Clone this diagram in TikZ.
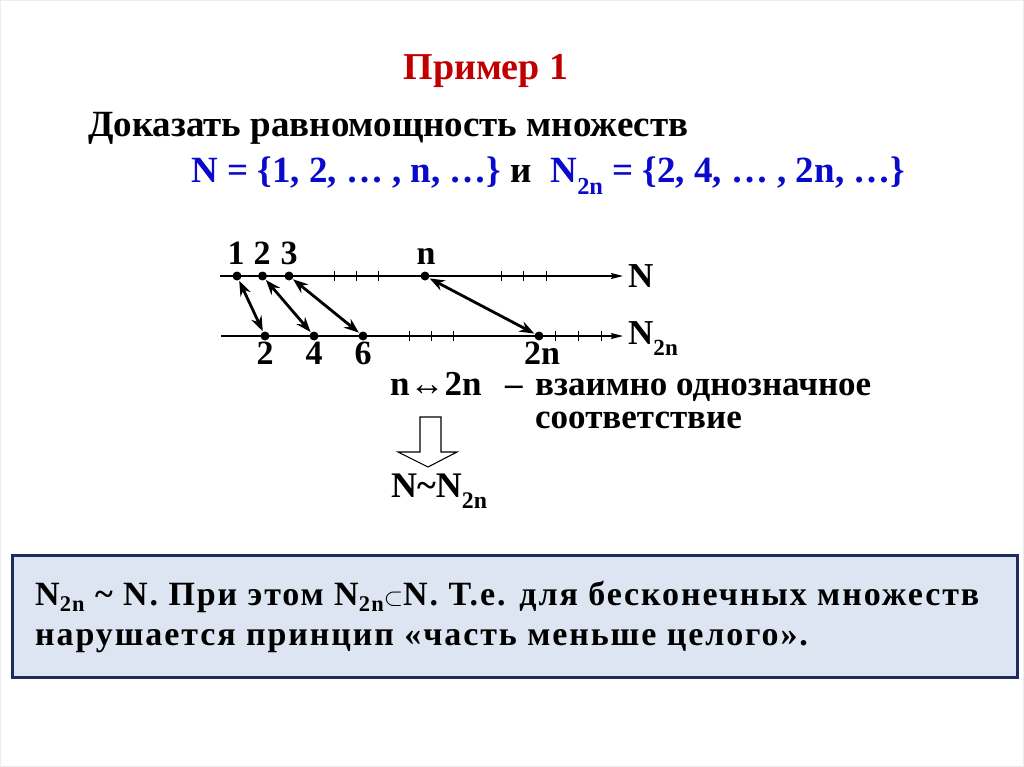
\documentclass[tikz,border=0pt]{standalone}
\usepackage{fontspec}
\setmainfont{Liberation Serif}
\newfontfamily\spacedfont[LetterSpace=5.6]{Liberation Serif}
\usetikzlibrary{arrows.meta}
\definecolor{titlered}{HTML}{C00000}
\definecolor{setblue}{HTML}{0A0ACC}
\definecolor{boxfill}{HTML}{DCE5F1}
\definecolor{boxline}{HTML}{1C2C5C}
\newcommand{\lsub}[1]{\raisebox{-0.32em}{\scalebox{0.66}{#1}}}
\newcommand{\bsub}[1]{\raisebox{-0.2em}{\scalebox{0.66}{#1}}}
\tikzset{
  txt/.style={inner sep=0pt, anchor=base west, font=\bfseries\fontsize{#1}{#1}\selectfont},
  txt/.default=35,
  boxtxt/.style={inner sep=0pt, anchor=base west, font=\spacedfont\bfseries\fontsize{34}{34}\selectfont},
  axis/.style={line width=1.3pt, -{Stealth[length=12pt,width=6pt,inset=1.5pt]}},
  tick/.style={line width=1pt},
  dot/.style={circle, fill=black, inner sep=0pt, minimum size=9pt},
  corr/.style={line width=2.8pt, {Stealth[length=15pt,width=11pt]}-{Stealth[length=15pt,width=11pt]}, shorten <=0.5pt, shorten >=0.5pt},
  numlab/.style={inner sep=0pt, anchor=base, font=\bfseries\fontsize{34}{34}\selectfont},
}
\begin{document}
\begin{tikzpicture}[x=1pt,y=-1pt]
\useasboundingbox (0,0) rectangle (1024,767);
\draw[black!7, line width=1pt] (0.5,0.5) rectangle (1023.5,766.5);

% title and statement
\node[numlab, text=titlered, font=\bfseries\fontsize{38}{38}\selectfont] (title) at (486,80) {Пример 1};
\node[txt=37] (task) at (88,137) {Доказать равномощность множеств};
\node[txt=37, text=setblue] (sets) at (191,183) {N = \{1, 2, … , n, …\} \textcolor{black}{и}\ \ N\lsub{2n} = \{2, 4, … , 2n, …\}};

% axes
\coordinate (nS) at (220,276); \coordinate (nE) at (623,276);
\coordinate (mS) at (221,336); \coordinate (mE) at (623,336);
\draw[axis] (nS) -- (nE);
\draw[axis] (mS) -- (mE);
\foreach \x in {334,356,378,501,523,546} \draw[tick] (\x,271) -- (\x,281);
\foreach \x in {409,431,453,555,578,601} \draw[tick] (\x,331) -- (\x,341);

\node[dot] (t1) at (237,276) {};
\node[dot] (t2) at (262.5,276) {};
\node[dot] (t3) at (289,276) {};
\node[dot] (tn) at (425,276) {};
\node[dot] (b2) at (265,336) {};
\node[dot] (b4) at (314,336) {};
\node[dot] (b6) at (363,336) {};
\node[dot] (b2n) at (539,336) {};

\node[numlab] (l1) at (236,264) {1};
\node[numlab] (l2) at (262,264) {2};
\node[numlab] (l3) at (289,264) {3};
\node[numlab] (ln) at (426,264) {n};
\node[numlab] (k2) at (265,364) {2};
\node[numlab] (k4) at (314,364) {4};
\node[numlab] (k6) at (363,364) {6};
\node[numlab] (k2n) at (542,364) {2n};

\node[txt=35] (labN) at (628,287) {N};
\node[txt=35] (labM) at (628,344) {N\lsub{2n}};

\draw[corr] (t1) -- (b2);
\draw[corr] (t2) -- (b4);
\draw[corr] (t3) -- (b6);
\draw[corr] (tn) -- (b2n);

% correspondence text
\node[txt=35] (corr1) at (390,395) {n↔2n};
\node[txt=35] (dash) at (505,395) {–};
\node[txt=35] (corr2) at (535,395) {взаимно однозначное};
\node[txt=35] (corr3) at (535,428) {соответствие};

% hollow arrow
\draw[line width=1.1pt, fill=white, line join=miter]
  (420,417) -- (441,417) -- (441,452) -- (457,452) -- (428,467) -- (398,452) -- (420,452) -- cycle;

\node[txt=36] (equiv) at (391,497) {N\textasciitilde N\lsub{2n}};

% conclusion box
\draw[boxline, fill=boxfill, line width=3pt] (12,555) rectangle (1017,677);
\node[boxtxt] (c1) at (35,605) {N\bsub{2n} \textasciitilde\ N. При этом N\bsub{2n}$\subset$N. Т.е. для бесконечных множеств};
\node[boxtxt] (c2) at (35,645) {нарушается принцип «часть меньше целого».};
\end{tikzpicture}
\end{document}
